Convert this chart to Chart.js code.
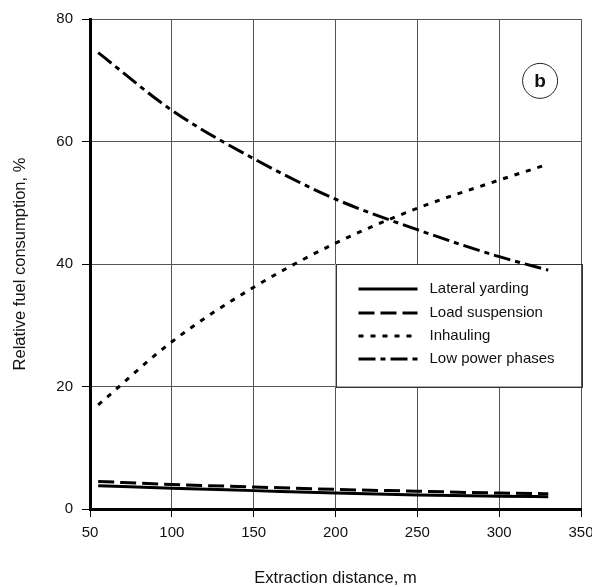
<!DOCTYPE html>
<html>
<head>
<meta charset="utf-8">
<script src="https://cdn.jsdelivr.net/npm/chart.js@4.4.1/dist/chart.umd.min.js"></script>
<style>
html,body{margin:0;padding:0;background:#fff;}
#wrap{width:592px;height:587px;position:relative;}
</style>
</head>
<body>
<div id="wrap"><canvas id="c" width="592" height="587"></canvas></div>
<script>
const distances = [55, 100, 150, 200, 250, 300, 330];
const lateralYarding = [3.8, 3.4, 3.0, 2.6, 2.3, 2.1, 2.0];
const loadSuspension = [4.5, 4.0, 3.6, 3.2, 2.9, 2.6, 2.5];
const inhauling = [17.0, 27.3, 36.2, 43.4, 49.1, 53.7, 56.3];
const lowPowerPhases = [74.5, 65.1, 57.2, 50.6, 45.6, 41.2, 39.0];
const seriesNames = ['Lateral yarding', 'Load suspension', 'Inhauling', 'Low power phases'];
const xTicks = [50, 100, 150, 200, 250, 300, 350];
const yTicks = [0, 20, 40, 60, 80];
const panelLabel = 'b';

const FONT = "'Liberation Sans', Arial, sans-serif";
const dashes = [[], [16, 6], [5, 7], [17, 5, 5, 5]];

function pts(ys){ return distances.map((x,i)=>({x:x, y:ys[i]})); }
const allSeries = [lateralYarding, loadSuspension, inhauling, lowPowerPhases];

const datasets = allSeries.map((s,i)=>({
  label: seriesNames[i],
  data: pts(s),
  borderColor: '#000',
  borderWidth: 3,
  borderDash: dashes[i],
  borderCapStyle: 'butt',
  pointRadius: 0,
  cubicInterpolationMode: 'monotone',
  fill: false
}));

const legendPlugin = {
  id: 'customLegend',
  beforeDatasetsDraw(chart){
    const {ctx, scales:{x, y}} = chart;
    const l = x.getPixelForValue(200), r = x.getPixelForValue(350);
    const t = y.getPixelForValue(40), b = y.getPixelForValue(20);
    ctx.save();
    ctx.fillStyle = '#fff';
    ctx.fillRect(l, t, r-l, b-t);
    ctx.strokeStyle = '#333';
    ctx.lineWidth = 1;
    ctx.strokeRect(Math.round(l)+0.5, Math.round(t)+0.5, Math.round(r-l), Math.round(b-t));
    const rowY = [25, 49, 72, 95];
    for(let i=0;i<seriesNames.length;i++){
      const yy = t + rowY[i];
      ctx.beginPath();
      ctx.setLineDash(dashes[i]);
      ctx.lineWidth = 3;
      ctx.strokeStyle = '#000';
      ctx.lineCap = 'butt';
      ctx.moveTo(l + 23, yy);
      ctx.lineTo(l + 82, yy);
      ctx.stroke();
      ctx.setLineDash([]);
      ctx.fillStyle = '#111';
      ctx.font = "15px " + FONT;
      ctx.textBaseline = 'middle';
      ctx.textAlign = 'left';
      ctx.fillText(seriesNames[i], l + 94, yy);
    }
    // panel label
    const cx = x.getPixelForValue(325), cy = y.getPixelForValue(69.9);
    ctx.beginPath();
    ctx.lineWidth = 1;
    ctx.strokeStyle = '#222';
    ctx.arc(cx, cy, 17.5, 0, Math.PI*2);
    ctx.stroke();
    ctx.fillStyle = '#111';
    ctx.font = "bold 19px " + FONT;
    ctx.textAlign = 'center';
    ctx.textBaseline = 'middle';
    ctx.fillText(panelLabel, cx, cy + 1);
    ctx.restore();
  }
};

new Chart(document.getElementById('c'), {
  type: 'line',
  data: { datasets },
  plugins: [legendPlugin],
  options: {
    responsive: false,
    animation: false,
    layout: { padding: { top: 19, right: 11, left: 0, bottom: 0 } },
    plugins: { legend: { display: false }, tooltip: { enabled: false } },
    scales: {
      x: {
        type: 'linear',
        min: 50, max: 350,
        afterBuildTicks(s){ s.ticks = xTicks.map(v=>({value:v})); },
        afterFit(s){ s.height = 78; s.paddingLeft = 0; s.paddingRight = 0; },
        grid: { color: '#555', lineWidth: 1, tickLength: 8, tickColor: '#000', drawOnChartArea: true },
        border: { color: '#000', width: 3 },
        ticks: { color: '#111', font: { family: FONT, size: 15 }, padding: 7, maxRotation: 0 },
        title: { display: true, text: 'Extraction distance, m', color: '#111', font: { family: FONT, size: 16.5, lineHeight: 1.0 }, padding: { top: 0, bottom: 0 } }
      },
      y: {
        min: 0, max: 80,
        afterBuildTicks(s){ s.ticks = yTicks.map(v=>({value:v})); },
        afterFit(s){ s.width = 90; },
        grid: { color: '#555', lineWidth: 1, tickLength: 8, tickColor: '#000' },
        border: { color: '#000', width: 3 },
        ticks: { color: '#111', font: { family: FONT, size: 15 }, padding: 9 },
        title: { display: true, text: 'Relative fuel consumption, %', color: '#111', font: { family: FONT, size: 16.5, lineHeight: 1.0 }, padding: { top: 12, bottom: 0 } }
      }
    }
  }
});
</script>
</body>
</html>
